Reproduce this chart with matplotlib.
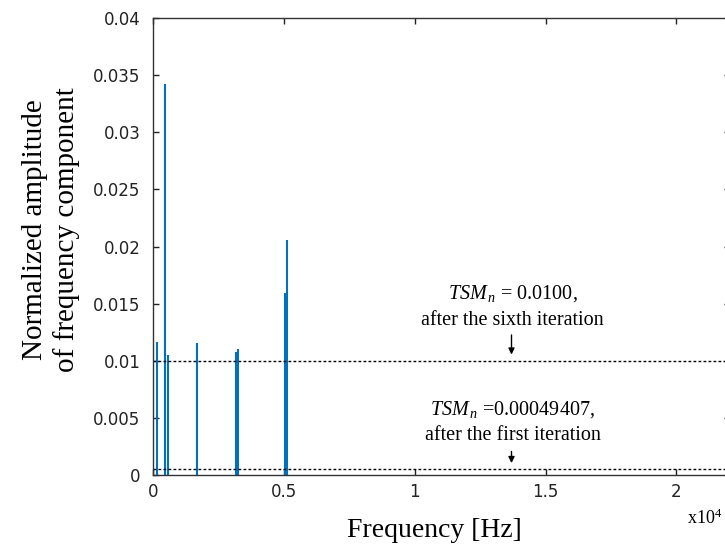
import numpy as np, matplotlib; matplotlib.use('Agg')
import matplotlib.pyplot as plt

# spectral peaks
freq = [160, 465, 555, 1680, 3160, 3250, 5030, 5125]
amp = [0.01167, 0.0342, 0.01053, 0.01155, 0.01077, 0.01101, 0.0159, 0.02057]
tsm_levels = [0.0100, 0.00049407]
tsm_texts = [r'$TSM_{\,n}$ = 0.0100,' + '\nafter the sixth iteration',
             r'$TSM_{\,n}$ =0.00049407,' + '\nafter the first iteration']
xticks = [0, 5000, 10000, 15000, 20000]
xticklabels = ['0', '0.5', '1', '1.5', '2']
yticks = [0, 0.005, 0.01, 0.015, 0.02, 0.025, 0.03, 0.035, 0.04]
yticklabels = ['0', '0.005', '0.01', '0.015', '0.02', '0.025', '0.03', '0.035', '0.04']

plt.rcParams['mathtext.fontset'] = 'custom'
plt.rcParams['mathtext.it'] = 'Liberation Serif:italic'
plt.rcParams['mathtext.rm'] = 'Liberation Serif'

fig = plt.figure(figsize=(7.25, 5.46), dpi=100)
ax = fig.add_axes([153/725, 71/546, 577/725, 457/546])

ax.vlines(freq, 0, amp, color='#0072BD', lw=1.5)
for lv in tsm_levels:
    ax.axhline(lv, color='black', lw=1.0, ls=(0, (2, 1.6)))

ax.annotate('', xy=(13700, 0.0103), xytext=(13700, 0.0125),
            arrowprops=dict(arrowstyle='-|>', color='black', lw=1, mutation_scale=9))
ax.annotate('', xy=(13700, 0.0008), xytext=(13700, 0.0023),
            arrowprops=dict(arrowstyle='-|>', color='black', lw=1, mutation_scale=9))
ax.text(13750, 0.01475, tsm_texts[0], ha='center', va='center', fontsize=14.5,
        family='Liberation Serif', linespacing=1.45)
ax.text(13750, 0.00465, tsm_texts[1], ha='center', va='center', fontsize=14.5,
        family='Liberation Serif', linespacing=1.45)

ax.set_xlim(0, 22050)
ax.set_ylim(0, 0.04)
ax.set_xticks(xticks)
ax.set_xticklabels(xticklabels)
ax.set_yticks(yticks)
ax.set_yticklabels(yticklabels)
ax.tick_params(direction='in', length=4, width=1, top=True, right=True,
               labelsize=12, colors='#222222')
ax.tick_params(axis='y', pad=9)
ax.tick_params(axis='x', pad=6)
for lab in ax.get_xticklabels() + ax.get_yticklabels():
    lab.set_family('DejaVu Sans')
for s in ax.spines.values():
    s.set_color('#333333'); s.set_linewidth(1.0)

ax.set_xlabel('Frequency [Hz]', family='Liberation Serif', fontsize=20)
ax.xaxis.set_label_coords(0.487, -0.094)
ax.set_ylabel('Normalized amplitude\nof frequency component', family='Liberation Serif',
              fontsize=21, linespacing=1.25)
ax.yaxis.set_label_coords(-0.127, 0.536)
fig.text(687/725, 1-518/546, r'x10$^4$', family='Liberation Serif', fontsize=13,
         va='center', ha='left')

plt.savefig('out.png', dpi=100)
